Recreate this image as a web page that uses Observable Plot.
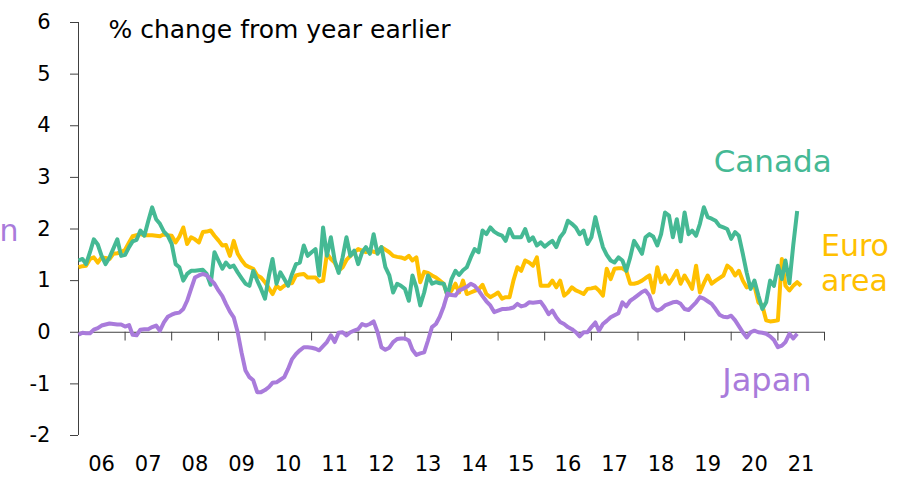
<!DOCTYPE html>
<html><head><meta charset="utf-8">
<script src="https://cdn.jsdelivr.net/npm/d3@7"></script>
<script src="https://cdn.jsdelivr.net/npm/@observablehq/plot@0.6"></script>
<style>
html,body{margin:0;padding:0;background:#fff;}
#chart svg{display:block;}
</style></head><body><div id="chart"></div>
<script>
const startYear = 2006;
const titleText = "% change from year earlier";
const yearLabels = ["06","07","08","09","10","11","12","13","14","15","16","17","18","19","20","21"];
const yTicks = [-2,-1,0,1,2,3,4,5,6];
const seriesNames = ["Euro area","Canada","Japan"];
const seriesColors = ["#ffc000","#45b994","#a97bdb"];

const canada = [1.39,1.42,1.32,1.55,1.8,1.7,1.48,1.32,1.45,1.62,
1.8,1.48,1.5,1.65,1.76,1.79,1.97,1.87,2.15,2.42,
2.19,2.1,1.95,1.87,1.71,1.32,1.26,1.0,1.13,1.19,
1.19,1.2,1.21,1.13,0.92,1.55,1.39,1.23,1.35,1.26,
1.29,1.16,1.05,0.94,0.9,1.19,1.0,0.84,0.65,1.1,
1.42,0.94,1.16,1.03,0.9,1.13,1.32,1.35,1.68,1.48,
1.55,1.61,1.1,2.03,1.48,1.84,1.39,1.15,1.45,1.84,
1.48,1.58,1.32,1.55,1.65,1.52,1.9,1.52,1.65,1.26,
1.1,0.77,0.94,0.9,0.84,0.61,1.1,0.87,0.52,0.77,
1.1,0.94,0.97,0.95,0.94,0.71,1.03,1.19,1.11,1.2,
1.26,1.45,1.61,1.55,1.97,1.9,2.03,1.95,1.9,1.87,
1.77,2.0,1.84,1.84,1.84,2.0,1.77,1.84,1.68,1.74,
1.66,1.72,1.77,1.65,1.84,1.94,2.16,2.1,2.03,1.9,
1.97,1.71,1.84,2.23,1.94,1.65,1.5,1.39,1.35,1.45,
1.39,1.19,1.45,1.77,1.65,1.52,1.84,1.9,1.85,1.68,
1.9,2.32,2.26,1.84,2.19,1.76,2.32,1.9,1.97,1.87,
2.1,2.42,2.23,2.2,2.16,2.06,2.03,2.0,1.81,1.94,
1.87,1.52,1.16,0.84,1.0,0.71,0.45,0.58,1.0,0.9,
1.29,1.03,1.39,0.95,1.68,2.35];

const euroArea = [1.26,1.28,1.29,1.42,1.45,1.35,1.45,1.44,1.42,1.52,
1.53,1.55,1.6,1.74,1.86,1.88,1.9,1.88,1.88,1.88,
1.87,1.86,1.9,1.88,1.87,1.74,1.85,2.03,1.71,1.84,
1.8,1.74,1.94,1.95,1.97,1.87,1.78,1.68,1.69,1.48,
1.77,1.52,1.4,1.3,1.26,1.23,1.1,1.06,0.97,0.85,
0.74,0.9,0.84,0.9,0.95,0.95,1.1,1.12,1.13,1.06,
1.06,1.06,0.98,1.0,1.52,1.42,1.35,1.19,1.26,1.4,
1.48,1.55,1.61,1.58,1.55,1.58,1.56,1.54,1.65,1.6,
1.55,1.48,1.46,1.45,1.42,1.48,1.39,1.45,0.97,1.17,
1.15,1.1,1.06,1.0,0.94,0.71,0.81,0.94,0.77,1.0,
0.74,0.77,0.8,0.83,0.92,0.74,0.68,0.72,0.77,0.65,
0.68,0.68,1.0,1.26,1.19,1.39,1.35,1.29,1.45,0.9,
0.9,0.9,1.0,0.87,1.0,0.71,0.77,0.87,0.81,0.78,
0.74,0.84,0.85,0.87,0.81,0.71,1.23,1.03,1.23,1.24,
1.24,1.19,0.94,0.94,0.96,1.0,1.05,1.1,0.77,1.26,
0.97,1.1,0.94,1.05,1.19,0.94,1.1,0.97,0.84,1.29,
0.77,0.95,1.1,0.94,1.0,1.05,1.1,1.29,1.23,1.1,
1.19,1.0,0.87,0.9,0.9,0.58,0.52,0.23,0.21,0.22,
0.23,1.42,0.9,0.81,0.9,0.97,0.9];

const japan = [-0.05,-0.01,-0.02,-0.02,0.05,0.08,0.13,0.15,0.17,0.16,
0.15,0.15,0.11,0.14,-0.05,-0.06,0.05,0.06,0.06,0.1,
0.13,0.03,0.19,0.3,0.34,0.37,0.38,0.45,0.61,0.84,
1.06,1.1,1.13,1.1,1.02,0.94,0.81,0.7,0.55,0.4,
0.29,0.0,-0.39,-0.74,-0.87,-0.93,-1.16,-1.16,-1.12,-1.06,
-0.98,-0.97,-0.92,-0.87,-0.71,-0.52,-0.42,-0.35,-0.29,-0.29,
-0.3,-0.32,-0.35,-0.27,-0.19,-0.06,-0.19,-0.01,0.0,-0.06,
0.0,0.03,0.06,0.16,0.13,0.16,0.21,0.0,-0.29,-0.34,
-0.3,-0.19,-0.13,-0.12,-0.12,-0.16,-0.34,-0.44,-0.41,-0.39,
-0.16,0.1,0.16,0.3,0.5,0.75,0.72,0.71,0.81,0.84,
0.88,0.94,0.9,0.81,0.7,0.6,0.52,0.39,0.42,0.45,
0.45,0.46,0.48,0.55,0.5,0.52,0.58,0.57,0.58,0.59,
0.48,0.35,0.42,0.29,0.2,0.16,0.1,0.06,0.0,-0.08,
0.0,0.0,0.1,0.19,0.03,0.16,0.22,0.29,0.33,0.37,
0.58,0.5,0.61,0.66,0.72,0.78,0.81,0.71,0.48,0.42,
0.45,0.52,0.55,0.58,0.59,0.55,0.45,0.43,0.5,0.58,
0.68,0.65,0.6,0.55,0.45,0.34,0.3,0.29,0.32,0.23,
0.12,0.0,-0.1,0.0,0.03,0.0,-0.01,-0.03,-0.08,-0.15,
-0.29,-0.26,-0.19,-0.03,-0.12,-0.03];

const monthDate = m => new Date(Date.UTC(startYear, m, 1));
const rows = [];
[euroArea, canada, japan].forEach((vals, i) =>
  vals.forEach((v, m) => rows.push({series: seriesNames[i], date: monthDate(m), value: v})));

const yearStarts = yearLabels.map((_, i) => new Date(Date.UTC(startYear + i + 1, 0, 1)));
const yearMids = yearLabels.map((_, i) => new Date(Date.UTC(startYear + i, 6, 1)));
const axisColor = "#404040";
const font = "'DejaVu Sans', sans-serif";
const colorOf = name => seriesColors[seriesNames.indexOf(name)];

const chart = Plot.plot({
  width: 921, height: 487,
  marginLeft: 78, marginRight: 97, marginTop: 22, marginBottom: 52,
  style: {fontFamily: font, fontSize: "20px", color: "#000", background: "#fff", overflow: "visible"},
  x: {type: "utc", domain: [monthDate(0), new Date(Date.UTC(2022, 0, 1))], axis: null},
  y: {domain: [-2, 6], axis: null},
  color: {domain: seriesNames, range: seriesColors},
  marks: [
    Plot.axisY({ticks: yTicks, tickSize: 8, tickPadding: 20, fontSize: 21, stroke: axisColor, fill: "#000", label: null, tickFormat: d => String(d)}),
    Plot.ruleX([monthDate(0)], {y1: -2, y2: 6, stroke: axisColor, strokeWidth: 1}),
    Plot.ruleY([0], {stroke: axisColor, strokeWidth: 1}),
    Plot.ruleX(yearStarts, {x: d => d, y1: 0, y2: -0.17, stroke: axisColor, strokeWidth: 1}),
    Plot.line(rows, {x: "date", y: "value", z: "series", stroke: "series", strokeWidth: 4, strokeLinejoin: "round", strokeLinecap: "butt"}),
    Plot.text(yearMids, {x: d => d, text: (d, i) => yearLabels[i], frameAnchor: "bottom", dy: 35, fontSize: 21, fill: "#000"}),
    Plot.text([titleText], {frameAnchor: "top-left", dx: 30, dy: 7, lineAnchor: "middle", textAnchor: "start", fontSize: 25, fill: "#000"}),
    Plot.text(["Canada"], {x: new Date(Date.UTC(2020, 10, 21)), y: 3.29, textAnchor: "middle", fontSize: 31, fill: colorOf("Canada")}),
    Plot.text(["Euro\narea"], {x: new Date(Date.UTC(2021, 11, 4)), y: 1.35, textAnchor: "start", lineHeight: 1.15, fontSize: 30, fill: colorOf("Euro area")}),
    Plot.text(["Japan"], {x: new Date(Date.UTC(2020, 9, 7)), y: -0.93, textAnchor: "middle", fontSize: 32, fill: colorOf("Japan")}),
    Plot.text(["n"], {frameAnchor: "left", y: 1.95, dx: -60, textAnchor: "end", fontSize: 30, fill: colorOf("Japan")})
  ]
});
document.getElementById("chart").appendChild(chart);
</script></body></html>
